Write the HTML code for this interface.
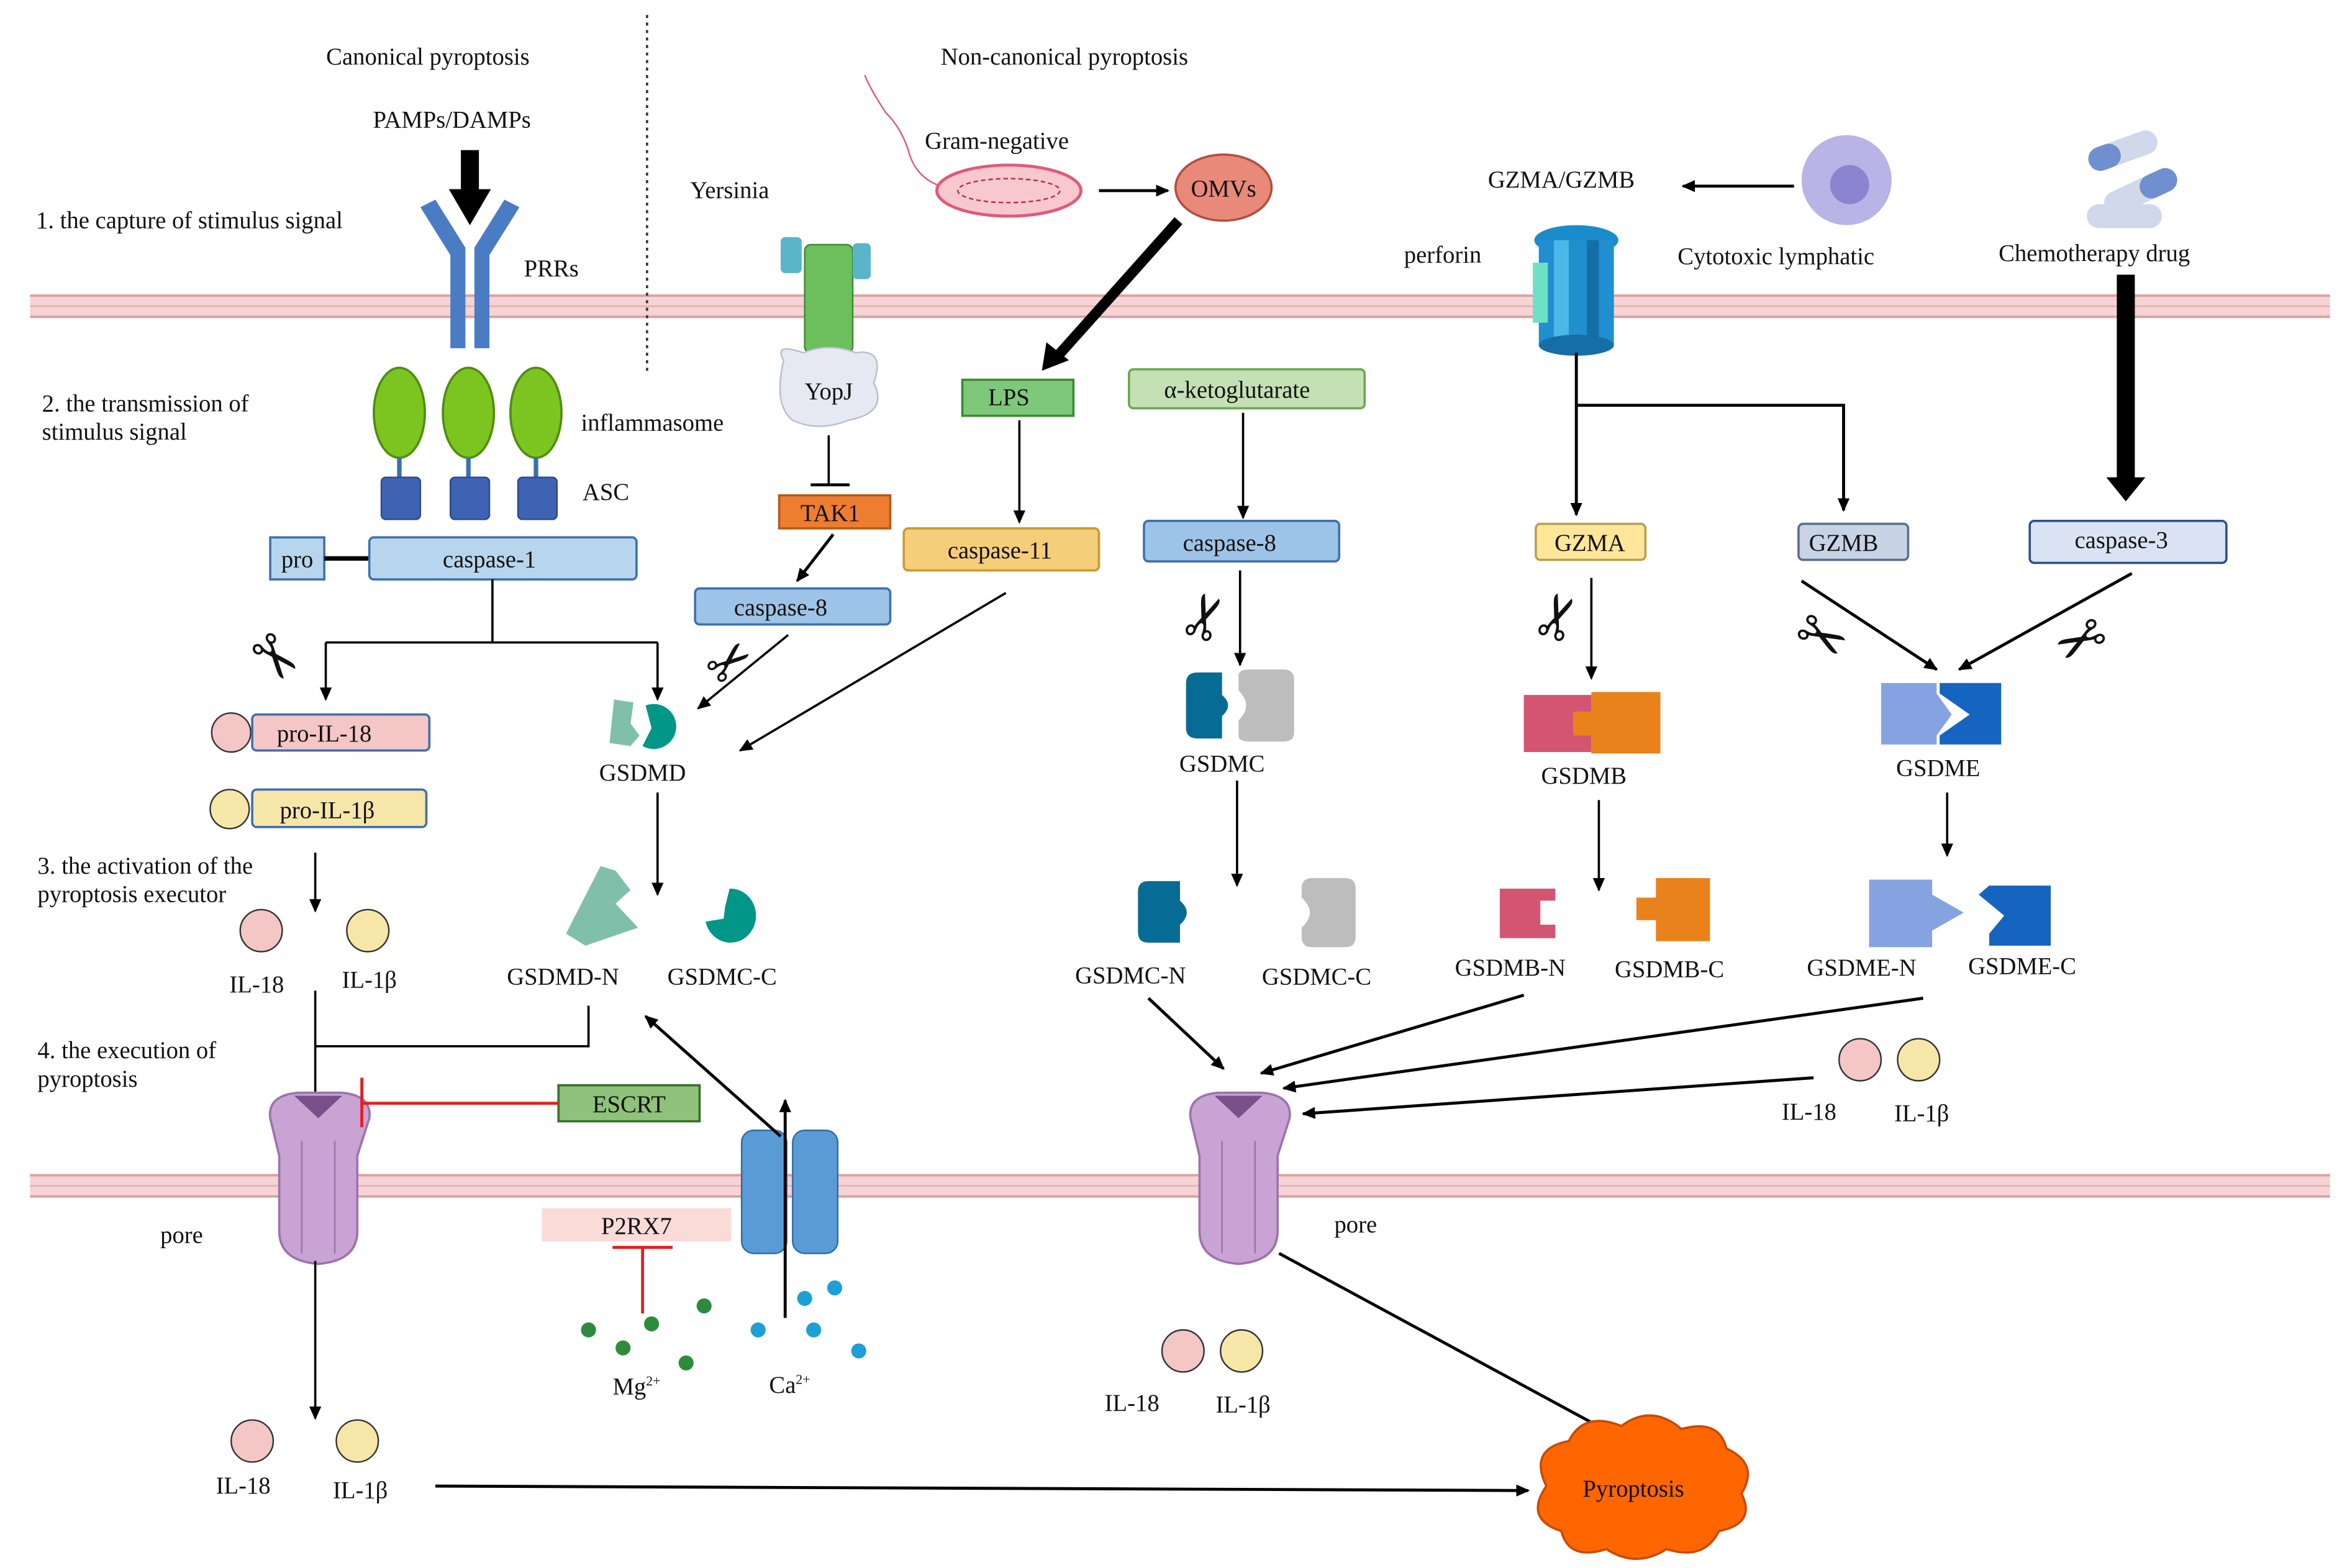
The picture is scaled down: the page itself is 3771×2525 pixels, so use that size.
<!DOCTYPE html>
<html><head><meta charset="utf-8"><style>
html,body{margin:0;padding:0;background:#fff;}
svg{display:block;}
text{font-family:"Liberation Serif",serif;font-size:16px;fill:#111;}
.c{text-anchor:middle;}
</style></head><body>
<svg width="3771" height="2525" viewBox="0 0 1560 1044.6" preserveAspectRatio="none" xmlns="http://www.w3.org/2000/svg">
<defs>
<marker id="a" markerWidth="10" markerHeight="10" refX="8" refY="5" orient="auto" markerUnits="userSpaceOnUse"><path d="M0,1 L9,5 L0,9 z" fill="#000"/></marker>
</defs>
<rect x="20" y="196" width="1532" height="16" fill="#f7d3d3"/>
<line x1="20" y1="197" x2="1552" y2="197" stroke="#d9a0a0" stroke-width="1.5"/>
<line x1="20" y1="204" x2="1552" y2="204" stroke="#e0b0b0" stroke-width="1"/>
<line x1="20" y1="211" x2="1552" y2="211" stroke="#d9a0a0" stroke-width="1.5"/>
<rect x="20" y="782" width="1532" height="16" fill="#f7d3d3"/>
<line x1="20" y1="783" x2="1552" y2="783" stroke="#d9a0a0" stroke-width="1.5"/>
<line x1="20" y1="790" x2="1552" y2="790" stroke="#e0b0b0" stroke-width="1"/>
<line x1="20" y1="797" x2="1552" y2="797" stroke="#d9a0a0" stroke-width="1.5"/>
<line x1="431" y1="10" x2="431" y2="248" stroke="#333" stroke-width="1.5" stroke-dasharray="2,3"/>

<text x="285" y="43" class="c">Canonical pyroptosis</text>
<text x="709" y="43" class="c">Non-canonical pyroptosis</text>
<text x="301" y="85" class="c">PAMPs/DAMPs</text>
<text x="24" y="152">1. the capture of stimulus signal</text>
<text x="349" y="184">PRRs</text>
<text x="28" y="274">2. the transmission of</text>
<text x="28" y="293">stimulus signal</text>
<text x="387" y="287">inflammasome</text>
<text x="388" y="333">ASC</text>
<text x="25" y="582">3. the activation of the</text>
<text x="25" y="601">pyroptosis executor</text>
<text x="25" y="705">4. the execution of</text>
<text x="25" y="724">pyroptosis</text>

<rect x="307" y="100" width="12" height="28" fill="#000"/>
<path d="M299,126 L327,126 L313,150 z" fill="#000"/>
<path d="M280,138 L300,170 L300,232 L310,232 L310,165 L290,133 z" fill="#4a7cc4"/>
<path d="M346,138 L326,170 L326,232 L316,232 L316,165 L336,133 z" fill="#4a7cc4"/>
<g fill="#7cc520" stroke="#4f8c10" stroke-width="1.5">
<ellipse cx="266" cy="275" rx="17" ry="30"/><ellipse cx="312" cy="275" rx="17" ry="30"/><ellipse cx="357" cy="275" rx="17" ry="30"/></g>
<g stroke="#3b6fb0" stroke-width="3"><line x1="266" y1="305" x2="266" y2="318"/><line x1="312" y1="305" x2="312" y2="318"/><line x1="357" y1="305" x2="357" y2="318"/></g>
<g fill="#3f63b3" stroke="#2c4a8a"><rect x="254" y="318" width="26" height="28" rx="3"/><rect x="300" y="318" width="26" height="28" rx="3"/><rect x="345" y="318" width="26" height="28" rx="3"/></g>
<rect x="180" y="358" width="36" height="28" fill="#b7d6ee" stroke="#3f6fb0" stroke-width="1.5"/>
<text x="198" y="378" class="c">pro</text>
<line x1="216" y1="372" x2="246" y2="372" stroke="#000" stroke-width="3"/>
<rect x="246" y="358" width="178" height="28" rx="3" fill="#b7d6ee" stroke="#3f6fb0" stroke-width="1.5"/>
<text x="326" y="378" class="c">caspase-1</text>
<path d="M328,386 L328,428 M217,428 L438,428" stroke="#000" stroke-width="1.5" fill="none"/>
<line x1="217" y1="428" x2="217" y2="466" stroke="#000" stroke-width="1.5" marker-end="url(#a)"/>
<line x1="438" y1="428" x2="438" y2="466" stroke="#000" stroke-width="1.5" marker-end="url(#a)"/>
<text x="183" y="452" class="c" style="font-family:'DejaVu Sans';font-size:40px" transform="rotate(50 183 438)">✂</text>

<circle cx="154" cy="488" r="13" fill="#f4c6c6" stroke="#333"/>
<rect x="168" y="476" width="118" height="24" rx="3" fill="#f4c6c6" stroke="#3f6fb0" stroke-width="1.5"/>
<text x="216" y="494" class="c">pro-IL-18</text>
<circle cx="153" cy="539" r="13" fill="#f6e7a8" stroke="#333"/>
<rect x="168" y="526" width="116" height="25" rx="3" fill="#f6e7a8" stroke="#3f6fb0" stroke-width="1.5"/>
<text x="218" y="545" class="c">pro-IL-1β</text>
<line x1="210" y1="568" x2="210" y2="607" stroke="#000" stroke-width="1.5" marker-end="url(#a)"/>
<circle cx="174" cy="620" r="14" fill="#f4c6c6" stroke="#333"/>
<circle cx="245" cy="620" r="14" fill="#f6e7a8" stroke="#333"/>
<text x="171" y="661" class="c">IL-18</text>
<text x="246" y="658" class="c">IL-1β</text>

<path d="M409,466 L422,468 L420,482 L426,490 L420,497 L406,495 z" fill="#80c0aa"/>
<path d="M430,470 A15,15 0 1,1 428,497 L434,485 z" fill="#009688"/>
<text x="428" y="520" class="c">GSDMD</text>
<line x1="438" y1="528" x2="438" y2="596" stroke="#000" stroke-width="1.5" marker-end="url(#a)"/>
<path d="M400,577 L410,580 L420,593 L410,602 L425,618 L390,630 L377,622 z" fill="#80c0aa"/>
<path d="M486,592 A17,18 0 1,1 470,614 L482,612 L483,604 z" fill="#009688"/>
<text x="375" y="656" class="c">GSDMD-N</text>
<text x="481" y="656" class="c">GSDMC-C</text>
<path d="M210,660 L210,728 M392,670 L392,697 L210,697" stroke="#000" stroke-width="1.5" fill="none"/>

<g id="pore">
<path d="M180,745 Q178,730 198,728 L228,728 Q248,730 246,745 L238,770 L238,820 Q238,840 212,842 Q186,840 186,820 L186,770 z" fill="#c9a3d3" stroke="#9d72ad" stroke-width="1.5"/>
<path d="M196,730 L212,745 L228,730 z" fill="#7a4f8a"/>
<line x1="201" y1="760" x2="201" y2="835" stroke="#9d72ad"/><line x1="223" y1="760" x2="223" y2="835" stroke="#9d72ad"/>
</g>
<use href="#pore" transform="translate(613,0)"/>
<text x="121" y="828" class="c">pore</text>
<text x="903" y="821" class="c">pore</text>

<rect x="372" y="723" width="94" height="24" fill="#8fc27a" stroke="#3a6f2a" stroke-width="1.5"/>
<text x="419" y="741" class="c">ESCRT</text>
<line x1="372" y1="735" x2="241" y2="735" stroke="#e52020" stroke-width="2"/>
<line x1="241" y1="718" x2="241" y2="751" stroke="#e52020" stroke-width="2"/>

<line x1="210" y1="840" x2="210" y2="945" stroke="#000" stroke-width="1.5" marker-end="url(#a)"/>
<circle cx="168" cy="960" r="14" fill="#f4c6c6" stroke="#333"/>
<circle cx="238" cy="960" r="14" fill="#f6e7a8" stroke="#333"/>
<text x="162" y="995" class="c">IL-18</text>
<text x="240" y="998" class="c">IL-1β</text>
<line x1="290" y1="990" x2="1018" y2="993" stroke="#000" stroke-width="2" marker-end="url(#a)"/>

<rect x="494" y="753" width="30" height="82" rx="8" fill="#5b9bd5" stroke="#2e6aa8"/>
<rect x="528" y="753" width="30" height="82" rx="8" fill="#5b9bd5" stroke="#2e6aa8"/>
<line x1="523" y1="878" x2="523" y2="733" stroke="#000" stroke-width="2" marker-end="url(#a)"/>
<line x1="520" y1="757" x2="430" y2="677" stroke="#000" stroke-width="2" marker-end="url(#a)"/>
<rect x="361" y="805" width="126" height="22" fill="#fadbd8"/>
<text x="424" y="822" class="c">P2RX7</text>
<line x1="428" y1="831" x2="428" y2="875" stroke="#e52020" stroke-width="2"/>
<line x1="408" y1="831" x2="448" y2="831" stroke="#e52020" stroke-width="2"/>
<g fill="#2e8b3e"><circle cx="392" cy="886" r="5"/><circle cx="415" cy="898" r="5"/><circle cx="434" cy="882" r="5"/><circle cx="457" cy="908" r="5"/><circle cx="469" cy="870" r="5"/></g>
<g fill="#1e9fd8"><circle cx="536" cy="865" r="5"/><circle cx="556" cy="858" r="5"/><circle cx="505" cy="886" r="5"/><circle cx="542" cy="886" r="5"/><circle cx="572" cy="900" r="5"/></g>
<text x="424" y="929" class="c">Mg<tspan font-size="9" dy="-6">2+</tspan></text>
<text x="526" y="928" class="c">Ca<tspan font-size="9" dy="-6">2+</tspan></text>

<text x="486" y="132" class="c">Yersinia</text>
<rect x="536" y="163" width="32" height="72" rx="4" fill="#6cbf5c" stroke="#3c8a30"/>
<rect x="520" y="158" width="14" height="24" rx="3" fill="#5bb5c9"/>
<rect x="568" y="162" width="12" height="24" rx="3" fill="#5bb5c9"/>
<path d="M522,240 Q515,228 535,235 Q552,228 570,235 Q590,232 582,255 Q592,275 565,280 Q545,288 528,280 Q515,270 522,240 z" fill="#e6e9f2" stroke="#b8bdd0"/>
<text x="552" y="266" class="c">YopJ</text>
<line x1="552" y1="290" x2="552" y2="323" stroke="#000" stroke-width="1.5"/>
<line x1="540" y1="323" x2="566" y2="323" stroke="#000" stroke-width="2"/>
<rect x="519" y="330" width="74" height="22" fill="#ed7d31" stroke="#b55a1a" stroke-width="1.5"/>
<text x="553" y="347" class="c">TAK1</text>
<line x1="555" y1="356" x2="531" y2="387" stroke="#000" stroke-width="2" marker-end="url(#a)"/>
<rect x="463" y="392" width="130" height="24" rx="3" fill="#9dc3e6" stroke="#3f6fb0" stroke-width="1.5"/>
<text x="520" y="410" class="c">caspase-8</text>
<text x="485" y="454" class="c" style="font-family:'DejaVu Sans';font-size:36px" transform="rotate(-40 485 440)">✂</text>
<line x1="525" y1="423" x2="465" y2="472" stroke="#000" stroke-width="1.5" marker-end="url(#a)"/>
<line x1="670" y1="395" x2="493" y2="500" stroke="#000" stroke-width="1.5" marker-end="url(#a)"/>

<text x="664" y="99" class="c">Gram-negative</text>
<path d="M630,125 Q610,120 605,100 Q600,85 590,75 Q580,60 576,50" stroke="#e05a7a" fill="none"/>
<ellipse cx="672" cy="127" rx="48" ry="17" fill="#f8c8cf" stroke="#e05a7a" stroke-width="2"/>
<ellipse cx="672" cy="127" rx="34" ry="8" fill="none" stroke="#b03050" stroke-dasharray="3,2"/>
<line x1="732" y1="127" x2="778" y2="127" stroke="#000" stroke-width="2" marker-end="url(#a)"/>
<ellipse cx="815" cy="125" rx="32" ry="22" fill="#e8897a" stroke="#b05040" stroke-width="1.5"/>
<text x="815" y="131" class="c">OMVs</text>
<line x1="785" y1="147" x2="702" y2="240" stroke="#000" stroke-width="7"/>
<path d="M694,247 L697,228 L712,240 z" fill="#000"/>
<rect x="641" y="253" width="74" height="24" fill="#7dc87a" stroke="#3c8a30" stroke-width="1.5"/>
<text x="672" y="270" class="c">LPS</text>
<line x1="679" y1="280" x2="679" y2="348" stroke="#000" stroke-width="1.5" marker-end="url(#a)"/>
<rect x="602" y="352" width="130" height="28" rx="3" fill="#f6cd79" stroke="#c99a30" stroke-width="1.5"/>
<text x="666" y="372" class="c">caspase-11</text>

<rect x="752" y="246" width="157" height="26" rx="3" fill="#c5e0b4" stroke="#6aa84f" stroke-width="1.5"/>
<text x="824" y="265" class="c">α-ketoglutarate</text>
<line x1="828" y1="275" x2="828" y2="345" stroke="#000" stroke-width="1.5" marker-end="url(#a)"/>
<rect x="762" y="347" width="130" height="27" rx="3" fill="#9dc3e6" stroke="#3f6fb0" stroke-width="1.5"/>
<text x="819" y="367" class="c">caspase-8</text>
<text x="800" y="427" class="c" style="font-family:'DejaVu Sans';font-size:40px" transform="rotate(-70 800 410)">✂</text>
<line x1="826" y1="380" x2="826" y2="443" stroke="#000" stroke-width="1.5" marker-end="url(#a)"/>
<path d="M790,455 Q790,448 798,448 L814,448 L814,463 Q822,470 814,477 L814,492 L798,492 Q790,492 790,485 z" fill="#076c94"/>
<path d="M825,450 Q825,446 832,446 L855,446 Q862,446 862,453 L862,488 Q862,494 855,494 L832,494 Q825,494 825,490 L825,480 Q835,470 825,460 z" fill="#bdbdbd"/>
<text x="814" y="514" class="c">GSDMC</text>
<line x1="824" y1="520" x2="824" y2="590" stroke="#000" stroke-width="1.5" marker-end="url(#a)"/>
<path d="M758,594 Q758,587 765,587 L786,587 L786,600 Q795,608 786,616 L786,628 L765,628 Q758,628 758,621 z" fill="#076c94"/>
<path d="M867,592 Q867,585 874,585 L896,585 Q903,585 903,592 L903,624 Q903,631 896,631 L874,631 Q867,631 867,624 L867,618 Q878,608 867,598 z" fill="#bdbdbd"/>
<text x="753" y="655" class="c">GSDMC-N</text>
<text x="877" y="656" class="c">GSDMC-C</text>
<line x1="765" y1="665" x2="815" y2="712" stroke="#000" stroke-width="2" marker-end="url(#a)"/>
<line x1="1015" y1="663" x2="840" y2="715" stroke="#000" stroke-width="2" marker-end="url(#a)"/>
<line x1="1281" y1="665" x2="855" y2="725" stroke="#000" stroke-width="2" marker-end="url(#a)"/>
<line x1="1208" y1="718" x2="868" y2="742" stroke="#000" stroke-width="2" marker-end="url(#a)"/>
<circle cx="788" cy="900" r="14" fill="#f4c6c6" stroke="#333"/>
<circle cx="827" cy="900" r="14" fill="#f6e7a8" stroke="#333"/>
<text x="754" y="940" class="c">IL-18</text>
<text x="828" y="941" class="c">IL-1β</text>
<line x1="852" y1="835" x2="1070" y2="953" stroke="#000" stroke-width="2" marker-end="url(#a)"/>
<g fill="#ff6600" stroke="#c94a00" stroke-width="1.5">
<path d="M1030,990 Q1018,965 1045,960 Q1055,940 1080,950 Q1100,935 1120,952 Q1145,945 1150,965 Q1172,975 1160,995 Q1170,1015 1145,1020 Q1135,1040 1110,1032 Q1090,1045 1070,1032 Q1045,1040 1040,1020 Q1015,1012 1030,990 z"/></g>
<text x="1088" y="997" class="c">Pyroptosis</text>

<text x="1040" y="125" class="c">GZMA/GZMB</text>
<line x1="1195" y1="124" x2="1121" y2="124" stroke="#000" stroke-width="2" marker-end="url(#a)"/>
<circle cx="1230" cy="120" r="30" fill="#b9b3e6"/>
<circle cx="1232" cy="123" r="13" fill="#8b84cf"/>
<text x="1183" y="176" class="c">Cytotoxic lymphatic</text>
<text x="961" y="175" class="c">perforin</text>
<ellipse cx="1050" cy="160" rx="28" ry="10" fill="#1a8ccc"/>
<rect x="1025" y="160" width="50" height="70" fill="#1f8fd0"/>
<rect x="1021" y="175" width="10" height="40" fill="#6de0c8"/>
<rect x="1035" y="160" width="10" height="72" fill="#4bb6e8"/>
<rect x="1057" y="160" width="8" height="72" fill="#156fa6"/>
<ellipse cx="1050" cy="230" rx="25" ry="7" fill="#156fa6"/>
<line x1="1050" y1="235" x2="1050" y2="343" stroke="#000" stroke-width="2" marker-end="url(#a)"/>
<path d="M1050,270 L1228,270 L1228,340" stroke="#000" stroke-width="2" fill="none" marker-end="url(#a)"/>
<rect x="1023" y="349" width="73" height="24" rx="3" fill="#ffe699" stroke="#b9a050" stroke-width="1.5"/>
<text x="1059" y="367" class="c">GZMA</text>
<rect x="1198" y="349" width="73" height="24" rx="3" fill="#c8d3e6" stroke="#5a6f8f" stroke-width="1.5"/>
<text x="1228" y="367" class="c">GZMB</text>
<text x="1035" y="427" class="c" style="font-family:'DejaVu Sans';font-size:40px" transform="rotate(-70 1035 410)">✂</text>
<line x1="1060" y1="385" x2="1060" y2="452" stroke="#000" stroke-width="1.5" marker-end="url(#a)"/>
<path d="M1015,463 L1060,463 L1060,476 L1048,476 L1048,488 L1060,488 L1060,501 L1015,501 z" fill="#d35572"/>
<path d="M1060,461 L1106,461 L1106,502 L1060,502 L1060,490 L1048,490 L1048,474 L1060,474 z" fill="#e9821a"/>
<text x="1055" y="522" class="c">GSDMB</text>
<line x1="1065" y1="533" x2="1065" y2="593" stroke="#000" stroke-width="1.5" marker-end="url(#a)"/>
<path d="M999,592 L1036,592 L1036,600 L1026,600 L1026,616 L1036,616 L1036,625 L999,625 z" fill="#d35572"/>
<path d="M1103,585 L1139,585 L1139,627 L1103,627 L1103,613 L1090,613 L1090,598 L1103,598 z" fill="#e9821a"/>
<text x="1006" y="650" class="c">GSDMB-N</text>
<text x="1112" y="651" class="c">GSDMB-C</text>

<g transform="rotate(-20 1415 100)"><rect x="1390" y="92" width="48" height="16" rx="8" fill="#d0d8ea"/><rect x="1390" y="92" width="22" height="16" rx="8" fill="#6f8fd0"/></g>
<g transform="rotate(-25 1425 128)"><rect x="1400" y="120" width="52" height="16" rx="8" fill="#d0d8ea"/><rect x="1426" y="120" width="26" height="16" rx="8" fill="#6f8fd0"/></g>
<rect x="1390" y="136" width="50" height="16" rx="8" fill="#d0d8ea"/>
<text x="1395" y="174" class="c">Chemotherapy drug</text>
<rect x="1410" y="183" width="12" height="136" fill="#000"/>
<path d="M1403,318 L1429,318 L1416,334 z" fill="#000"/>
<rect x="1352" y="347" width="131" height="28" rx="3" fill="#dae3f3" stroke="#2f4f8f" stroke-width="1.5"/>
<text x="1413" y="365" class="c">caspase-3</text>
<line x1="1200" y1="387" x2="1290" y2="446" stroke="#000" stroke-width="2" marker-end="url(#a)"/>
<line x1="1420" y1="382" x2="1305" y2="446" stroke="#000" stroke-width="2" marker-end="url(#a)"/>
<text x="1213" y="438" class="c" style="font-family:'DejaVu Sans';font-size:40px" transform="rotate(30 1213 425)">✂</text>
<text x="1385" y="438" class="c" style="font-family:'DejaVu Sans';font-size:40px" transform="rotate(150 1385 425)">✂</text>
<path d="M1253,455 L1290,455 L1290,462 L1300,476 L1290,490 L1290,496 L1253,496 z" fill="#85a3e0"/>
<path d="M1292,455 L1333,455 L1333,496 L1292,496 L1292,490 L1312,476 L1292,462 z" fill="#1565c0"/>
<text x="1291" y="517" class="c">GSDME</text>
<line x1="1297" y1="528" x2="1297" y2="570" stroke="#000" stroke-width="1.5" marker-end="url(#a)"/>
<path d="M1245,586 L1287,586 L1287,596 L1308,608 L1287,620 L1287,631 L1245,631 z" fill="#85a3e0"/>
<path d="M1325,590 L1366,590 L1366,630 L1325,630 L1325,622 L1335,610 L1318,596 L1325,590 z" fill="#1565c0"/>
<text x="1240" y="650" class="c">GSDME-N</text>
<text x="1347" y="649" class="c">GSDME-C</text>
<circle cx="1239" cy="706" r="14" fill="#f4c6c6" stroke="#333"/>
<circle cx="1278" cy="706" r="14" fill="#f6e7a8" stroke="#333"/>
<text x="1205" y="746" class="c">IL-18</text>
<text x="1280" y="747" class="c">IL-1β</text>
</svg>
</body></html>
